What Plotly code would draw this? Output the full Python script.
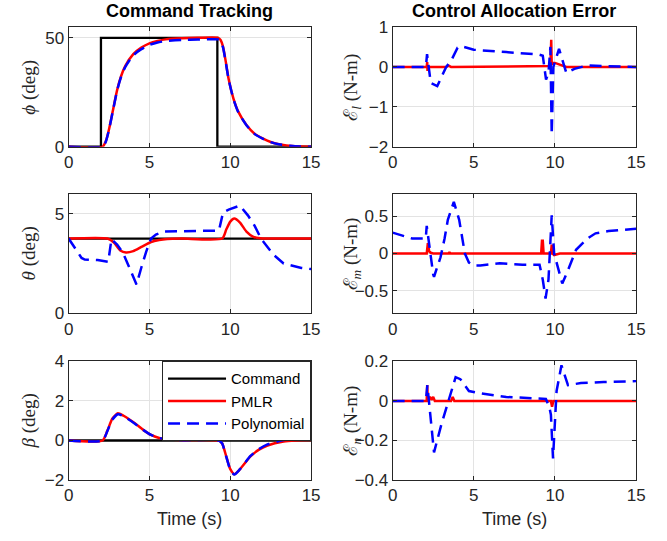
import plotly.graph_objects as go
from plotly.subplots import make_subplots

# ---------------- data ----------------
# phi (deg)
phi_cmd_t = [0, 2.0, 2.0, 9.2, 9.2, 15]
phi_cmd_v = [0, 0, 50, 50, 0, 0]
phi_pmlr_t = [0, 2.1, 2.3, 2.5, 2.75, 3.0, 3.25, 3.5, 4.0, 4.5, 5.0, 5.5, 6.0, 7.0, 8.0, 9.25, 9.4, 9.55, 9.7, 9.9, 10.2, 10.5, 11.0, 11.5, 12.0, 12.5, 13.0, 14.0, 15.0]
phi_pmlr_v = [0, 0, 2.5, 8, 17, 26, 32.5, 37, 42.5, 45.5, 47.5, 48.6, 49.3, 49.8, 50, 50, 49, 46, 40, 31, 22, 16, 10, 6, 3.8, 2.2, 1.2, 0.2, 0]
phi_poly_t = [0, 2.1, 2.3, 2.5, 2.75, 3.0, 3.25, 3.5, 4.0, 4.5, 5.0, 5.5, 6.0, 7.0, 8.0, 9.25, 9.4, 9.55, 9.7, 9.9, 10.2, 10.5, 11.0, 11.5, 12.0, 12.5, 13.0, 14.0, 15.0]
phi_poly_v = [0, 0, 2.3, 7.8, 16.8, 25.8, 32.2, 36.6, 42.0, 44.8, 46.8, 47.9, 48.5, 49.0, 49.2, 49.3, 48.6, 45.6, 39.6, 30.8, 21.8, 15.8, 9.9, 5.9, 3.7, 2.1, 1.1, 0.2, 0]

# theta (deg)
th_cmd_t = [0, 15]
th_cmd_v = [3.75, 3.75]
th_pmlr_t = [0, 2.4, 2.8, 3.2, 3.55, 4.0, 4.5, 5.1, 5.6, 6.1, 7.0, 9.5, 9.75, 10.0, 10.25, 10.6, 11.0, 11.4, 11.85, 12.5, 15.0]
th_pmlr_v = [3.75, 3.75, 3.55, 3.15, 3.05, 3.12, 3.33, 3.58, 3.68, 3.73, 3.75, 3.75, 4.2, 4.6, 4.75, 4.55, 4.1, 3.85, 3.76, 3.75, 3.75]
th_poly_t = [0, 0.3, 0.8, 1.0, 1.8, 2.45, 2.65, 3.0, 3.35, 3.7, 4.0, 4.2, 4.5, 4.8, 5.1, 5.4, 5.9, 7.0, 9.3, 9.55, 9.9, 10.6, 11.1, 11.5, 11.9, 12.3, 12.7, 13.3, 13.9, 14.4, 15.0]
th_poly_v = [3.75, 3.4, 2.78, 2.7, 2.67, 2.58, 3.72, 3.45, 3.05, 2.4, 1.8, 1.45, 2.3, 3.1, 3.75, 3.95, 4.1, 4.12, 4.15, 5.05, 5.2, 5.4, 4.9, 4.4, 3.75, 3.33, 2.92, 2.5, 2.4, 2.28, 2.22]

# beta (deg)
be_cmd_t = [0, 15]
be_cmd_v = [0, 0]
be_pmlr_t = [0, 2.1, 2.4, 2.7, 3.05, 3.4, 4.1, 4.6, 5.1, 5.6, 6.1, 7.0, 9.3, 9.5, 9.75, 10.0, 10.25, 10.6, 11.25, 11.8, 12.3, 13.3, 14.0, 15.0]
be_pmlr_v = [0, 0, 0.5, 1.1, 1.38, 1.25, 0.87, 0.55, 0.28, 0.13, 0.06, 0.02, 0, -0.15, -0.8, -1.45, -1.7, -1.45, -0.8, -0.45, -0.25, -0.05, 0.0, 0.02]
be_poly_t = [0, 2.1, 2.4, 2.7, 3.05, 3.4, 4.1, 4.6, 5.1, 5.6, 6.1, 7.0, 9.3, 9.5, 9.75, 10.0, 10.25, 10.6, 11.25, 11.8, 12.3, 13.3, 14.0, 15.0]
be_poly_v = [0, 0, 0.48, 1.05, 1.33, 1.22, 0.85, 0.54, 0.28, 0.13, 0.06, 0.02, 0, -0.15, -0.82, -1.47, -1.72, -1.45, -0.78, -0.42, -0.2, 0.03, 0.08, 0.12]

# control allocation errors (N-m)
el_pmlr_t = [0, 2.1, 2.13, 2.15, 2.17, 2.2, 3.3, 3.45, 3.6, 9.72, 9.77, 9.8, 9.85, 10.0, 10.3, 10.7, 15.0]
el_pmlr_v = [0, 0, 0.12, -0.1, 0.02, 0, 0, 0.03, 0, 0.02, 0.68, 0.05, 0.1, 0.1, 0.05, 0, 0]
el_poly_t = [0, 2.05, 2.12, 2.35, 2.75, 3.0, 3.3, 3.6, 4.0, 4.2, 5.0, 7.0, 9.0, 9.25, 9.45, 9.6, 9.72, 9.8, 9.9, 10.25, 10.7, 11.2, 12.0, 13.0, 15.0]
el_poly_v = [0, 0, 0.32, -0.4, -0.48, -0.25, 0.0, 0.15, 0.48, 0.52, 0.43, 0.37, 0.31, 0.28, -0.32, -0.15, 0.5, -1.7, 0.0, 0.45, -0.15, -0.05, 0.04, 0.02, 0.0]

em_pmlr_t = [0, 2.1, 2.17, 2.25, 2.35, 2.5, 3.45, 3.5, 3.55, 9.15, 9.2, 9.25, 9.3, 9.75, 9.8, 9.85, 9.95, 10.3, 15.0]
em_pmlr_v = [0, 0, 0.14, 0.03, 0.01, 0, 0, 0.02, 0, 0, 0.17, 0.17, 0, 0, 0.12, 0, -0.02, 0, 0]
em_poly_t = [0, 0.5, 1.2, 2.04, 2.1, 2.5, 2.55, 2.95, 3.2, 3.4, 3.77, 4.1, 4.45, 4.7, 5.0, 5.4, 6.6, 8.0, 9.05, 9.25, 9.42, 9.6, 9.8, 9.95, 10.45, 10.75, 11.3, 12.0, 12.5, 13.3, 14.0, 15.0]
em_poly_v = [0.28, 0.25, 0.2, 0.2, 0.37, -0.28, -0.31, -0.05, 0.2, 0.45, 0.69, 0.45, 0.0, -0.12, -0.16, -0.16, -0.13, -0.15, -0.15, -0.35, -0.6, -0.35, 0.51, 0.0, -0.4, -0.25, 0.05, 0.2, 0.27, 0.3, 0.31, 0.33]

en_pmlr_t = [0, 2.1, 2.13, 2.17, 2.3, 2.4, 2.5, 2.6, 3.6, 3.7, 3.8, 9.75, 9.82, 9.9, 15.0]
en_pmlr_v = [0, 0, 0.08, 0.0, 0.02, 0.005, 0.02, 0, 0, 0.02, 0, 0, -0.03, 0, 0]
en_poly_t = [0, 2.05, 2.14, 2.55, 3.0, 3.37, 3.88, 4.17, 4.7, 5.3, 7.0, 9.44, 9.65, 9.75, 9.88, 10.1, 10.4, 10.8, 11.6, 13.0, 15.0]
en_poly_v = [0, 0, 0.08, -0.26, -0.12, -0.02, 0.12, 0.11, 0.05, 0.04, 0.02, 0.01, -0.03, -0.07, -0.29, 0.05, 0.18, 0.08, 0.09, 0.095, 0.1]

x_ticks = [0, 5, 10, 15]
legend_names = ["Command", "PMLR", "Polynomial"]

# ---------------- figure ----------------
W, H = 667, 541
# observed placement of the paper in the captured picture
OX, OY, PW, PH = 3.0, 10.0, 657.0, 523.0


def fx(px):
    return (px - OX) / PW


def fy(py):
    return 1 - (py - OY) / PH


fig = make_subplots(rows=3, cols=2)

BLACK = "#000000"
RED = "#ff0000"
BLUE = "#0000ff"
DASH = "12px,7px"


def add_cmd(t, v, r, c, show=False):
    fig.add_trace(go.Scatter(x=t, y=v, mode="lines", name=legend_names[0],
                             line=dict(color=BLACK, width=2.3), showlegend=show,
                             legendrank=1), row=r, col=c)


def add_pmlr(t, v, r, c, show=False, smooth=True):
    fig.add_trace(go.Scatter(x=t, y=v, mode="lines", name=legend_names[1],
                             line=dict(color=RED, width=2.5,
                                       shape="spline" if smooth else "linear",
                                       smoothing=0.6),
                             showlegend=show, legendrank=2), row=r, col=c)


def add_poly(t, v, r, c, show=False, smooth=True):
    fig.add_trace(go.Scatter(x=t, y=v, mode="lines", name=legend_names[2],
                             line=dict(color=BLUE, width=2.5, dash=DASH,
                                       shape="spline" if smooth else "linear",
                                       smoothing=0.6),
                             showlegend=show, legendrank=3), row=r, col=c)


add_cmd(phi_cmd_t, phi_cmd_v, 1, 1)
add_pmlr(phi_pmlr_t, phi_pmlr_v, 1, 1)
add_poly(phi_poly_t, phi_poly_v, 1, 1)

add_cmd(th_cmd_t, th_cmd_v, 2, 1)
add_pmlr(th_pmlr_t, th_pmlr_v, 2, 1)
add_poly(th_poly_t, th_poly_v, 2, 1, smooth=False)

add_cmd(be_cmd_t, be_cmd_v, 3, 1, show=True)
add_pmlr(be_pmlr_t, be_pmlr_v, 3, 1, show=True)
add_poly(be_poly_t, be_poly_v, 3, 1, show=True)

add_pmlr(el_pmlr_t, el_pmlr_v, 1, 2, smooth=False)
add_poly(el_poly_t, el_poly_v, 1, 2, smooth=False)
add_pmlr(em_pmlr_t, em_pmlr_v, 2, 2, smooth=False)
add_poly(em_poly_t, em_poly_v, 2, 2, smooth=False)
add_pmlr(en_pmlr_t, en_pmlr_v, 3, 2, smooth=False)
add_poly(en_poly_t, en_poly_v, 3, 2, smooth=False)

# domains (target pixel positions in the picture)
xl = (fx(67), fx(311))
xr = (fx(393), fx(638))
rows_px = [(28, 148), (195, 315), (363, 482)]
ydoms = [(fy(b), fy(t)) for (t, b) in rows_px]

AX = "#262626"
GRID = "#e3e3e3"
common = dict(showline=True, linecolor=AX, linewidth=1, mirror="ticks",
              ticks="inside", ticklen=4, tickcolor=AX, showgrid=True,
              gridcolor=GRID, gridwidth=1, zeroline=False,
              tickfont=dict(family="Liberation Sans, Arial", size=17, color=AX))

yranges = [[0, 55], [-2, 1], [0, 6], [-0.8, 0.8], [-2, 4], [-0.4, 0.2]]
yticks = [[0, 50], [-2, -1, 0, 1], [0, 5], [-0.5, 0, 0.5], [-2, 0, 2, 4], [-0.4, -0.2, 0, 0.2]]

for i in range(6):
    r = i // 2
    c = i % 2
    xn = "xaxis" if i == 0 else f"xaxis{i + 1}"
    yn = "yaxis" if i == 0 else f"yaxis{i + 1}"
    fig.layout[xn].update(domain=xl if c == 0 else xr, range=[0, 15],
                          tickvals=x_ticks, **common)
    fig.layout[yn].update(domain=ydoms[r], range=yranges[i],
                          tickvals=yticks[i], **common)

ann = []
TITLE_FONT = dict(family="Liberation Sans, Arial", size=18, color="#000000")
ann.append(dict(text="<b>Command Tracking</b>", x=fx((67 + 311) / 2), y=fy(12),
                xref="paper", yref="paper", showarrow=False, font=TITLE_FONT,
                xanchor="center", yanchor="middle"))
ann.append(dict(text="<b>Control Allocation Error</b>", x=fx((393 + 638) / 2), y=fy(12),
                xref="paper", yref="paper", showarrow=False, font=TITLE_FONT,
                xanchor="center", yanchor="middle"))

LAB_FONT = dict(family="Liberation Serif, DejaVu Serif", size=19, color=AX)
ylabels_left = ["<i>ϕ</i> (deg)", "<i>θ</i> (deg)", "<i>β</i> (deg)"]
ylabels_right = ["ℰ<sub><i>l</i></sub> (N-m)", "ℰ<sub><i>m</i></sub> (N-m)", "ℰ<sub><i>n</i></sub> (N-m)"]
for r in range(3):
    yc = fy((rows_px[r][0] + rows_px[r][1]) / 2)
    ann.append(dict(text=ylabels_left[r], x=fx(27), y=yc, xref="paper", yref="paper",
                    showarrow=False, textangle=-90, font=LAB_FONT,
                    xanchor="center", yanchor="middle"))
    ann.append(dict(text=ylabels_right[r], x=fx(352), y=yc, xref="paper", yref="paper",
                    showarrow=False, textangle=-90, font=LAB_FONT,
                    xanchor="center", yanchor="middle"))

XLAB_FONT = dict(family="Liberation Sans, Arial", size=18, color=AX)
for xc in [fx((67 + 311) / 2), fx((393 + 638) / 2)]:
    ann.append(dict(text="Time (s)", x=xc, y=fy(521), xref="paper", yref="paper",
                    showarrow=False, font=XLAB_FONT, xanchor="center", yanchor="middle"))

fig.update_layout(
    width=W, height=H,
    margin=dict(l=0, r=0, t=0, b=0),
    paper_bgcolor="white", plot_bgcolor="white",
    annotations=ann,
    showlegend=True,
    legend=dict(x=fx(161), y=fy(363), xanchor="left", yanchor="top",
                bgcolor="white", bordercolor=AX, borderwidth=1,
                font=dict(family="Liberation Sans, Arial", size=15, color="#000000"),
                itemwidth=58, tracegroupgap=0),
)

fig.write_html("out.html", post_script="document.body.style.margin='0px';",
               config={"displayModeBar": False})
